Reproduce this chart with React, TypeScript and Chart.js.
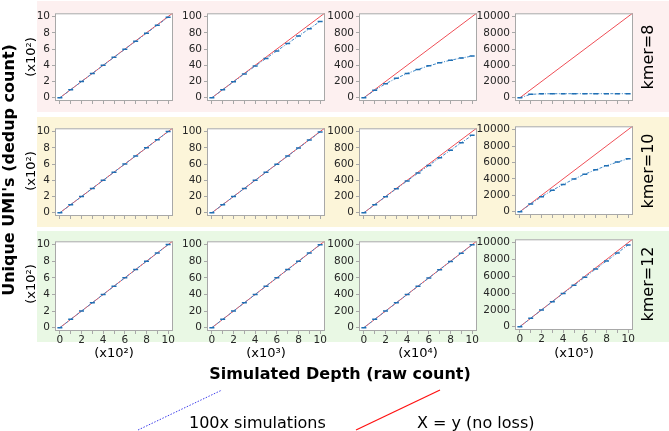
import React, { useEffect, useRef } from "react";
import { Chart, registerables } from "chart.js";

Chart.register(...registerables);

// ---------------- data ----------------
const DEPTH_STEPS = [0, 1, 2, 3, 4, 5, 6, 7, 8, 9, 10];
const X_TICKS = [0, 1, 2, 3, 4, 5, 6, 7, 8, 9, 10];
const X_LABELED = [0, 2, 4, 6, 8, 10];
const Y_TICKS = [
  [0, 2, 4, 6, 8, 10],
  [0, 20, 40, 60, 80, 100],
  [0, 200, 400, 600, 800, 1000],
  [0, 2000, 4000, 6000, 8000, 10000],
];
const IDENTITY_X = [0, 10.6];
const Y_SCALE = [1, 10, 100, 1000];
const KMER_LABELS = ["kmer=8", "kmer=10", "kmer=12"];
const X_UNIT_LABELS = ["(x10²)", "(x10³)", "(x10⁴)", "(x10⁵)"];
const Y_UNIT_LABEL = "(x10²)";
const X_TITLE = "Simulated Depth (raw count)";
const Y_TITLE = "Unique UMI's (dedup count)";
const LEGEND_SIM = "100x simulations";
const LEGEND_ID = "X = y (no loss)";

// kmer = 8
const K8_C1 = [0, 1.0, 2.0, 2.99, 3.99, 4.98, 5.97, 6.96, 7.95, 8.94, 9.92];
const K8_C2 = [0, 9.9, 19.7, 29.4, 39.0, 48.4, 57.7, 66.9, 76.0, 85.0, 94.0];
const K8_C3 = [0, 92, 172, 240, 299, 349, 393, 430, 462, 489, 513];
const K8_C4 = [0, 420, 480, 495, 500, 500, 501, 501, 501, 501, 501];
// kmer = 10
const K10_C1 = [0, 1, 2, 3, 4, 5, 6, 7, 8, 9, 10];
const K10_C2 = [0, 10, 20, 29.96, 39.9, 49.9, 59.8, 69.8, 79.7, 89.6, 99.5];
const K10_C3 = [0, 99.5, 198, 296, 392, 488, 583, 677, 770, 862, 954];
const K10_C4 = [0, 954, 1821, 2609, 3325, 3977, 4569, 5107, 5596, 6041, 6445];
// kmer = 12
const K12_C1 = [0, 1, 2, 3, 4, 5, 6, 7, 8, 9, 10];
const K12_C2 = [0, 10, 20, 30, 40, 50, 60, 70, 79.9, 89.9, 99.9];
const K12_C3 = [0, 100, 199.9, 299.7, 399.5, 499.3, 598.9, 698.5, 798.1, 897.6, 997];
const K12_C4 = [0, 997, 1988, 2973, 3953, 4926, 5894, 6856, 7812, 8763, 9730];

const SERIES = [
  [K8_C1, K8_C2, K8_C3, K8_C4],
  [K10_C1, K10_C2, K10_C3, K10_C4],
  [K12_C1, K12_C2, K12_C3, K12_C4],
];

// ---------------- layout / style ----------------
const FONT = "'DejaVu Sans', sans-serif";
const BLUE = "#3f88c8";
const BLUE_MARK = "#1f6fb4";
const RED = "#ef5058";
const FRAME = "#a8a8a8";
const TICK_TEXT = "#262626";
const BAND_COLORS = ["#fdf0f0", "#fcf5d9", "#e9f8e4"];
const BAND_TOPS = [1, 117, 231];
const BAND_BOTTOMS = [112, 227, 342];
const BAND_LEFT = 37;

const PLOT_LEFTS = [55, 207, 359, 515];
const PLOT_W = 118;
const PLOT_TOPS = [
  [13, 13, 13, 13],
  [128, 128, 128, 126],
  [241, 241, 241, 239],
];
const PLOT_HEIGHTS = [
  [88, 88, 88, 88],
  [88, 88, 88, 89],
  [90, 90, 90, 91],
];
const ROW_CENTERS = [57, 171, 284];
const YW = 44; // y axis width inside canvas
const TP = 8; // top padding
const RP = 10; // right padding
const XH = 20; // x axis height

const framePlugin = {
  id: "frame",
  beforeDraw(chart: any) {
    const { ctx, chartArea } = chart;
    const { left, top, right, bottom } = chartArea;
    ctx.save();
    ctx.fillStyle = "#ffffff";
    ctx.fillRect(left, top, right - left, bottom - top);
    ctx.restore();
  },
  afterDatasetsDraw(chart: any) {
    const { ctx, chartArea } = chart;
    const { left, top, right, bottom } = chartArea;
    ctx.save();
    ctx.strokeStyle = FRAME;
    ctx.lineWidth = 1;
    ctx.strokeRect(left + 0.5, top + 0.5, right - left - 1, bottom - top - 1);
    ctx.restore();
  },
};

function Panel({ row, col }: { row: number; col: number }) {
  const ref = useRef<HTMLCanvasElement>(null);
  const h = PLOT_HEIGHTS[row][col];
  const cw = YW + PLOT_W + RP;
  const ch = TP + h + XH;
  useEffect(() => {
    const k = Y_SCALE[col];
    const values = SERIES[row][col];
    const tickFont = { family: FONT, size: 10.5 };
    const chart = new Chart(ref.current as HTMLCanvasElement, {
      type: "line",
      data: {
        datasets: [
          {
            data: DEPTH_STEPS.map((x, i) => ({ x, y: values[i] })),
            borderColor: BLUE,
            borderWidth: 1,
            borderDash: [3, 1.5, 1, 1.5],
            pointStyle: "line",
            pointRadius: 2.5,
            pointBorderWidth: 1.5,
            pointBorderColor: BLUE_MARK,
            pointBackgroundColor: BLUE_MARK,
            fill: false,
            tension: 0,
            clip: 0,
          } as any,
          {
            data: IDENTITY_X.map((x) => ({ x, y: x * k })),
            borderColor: RED,
            borderWidth: 1,
            pointRadius: 0,
            fill: false,
            clip: 0,
          } as any,
        ],
      },
      options: {
        animation: false,
        responsive: false,
        events: [],
        layout: { padding: { top: TP, right: RP, left: 0, bottom: 0 } },
        plugins: { legend: { display: false }, tooltip: { enabled: false } },
        scales: {
          x: {
            type: "linear",
            min: -0.45,
            max: 10.45,
            afterBuildTicks: (s: any) => {
              s.ticks = X_TICKS.map((v) => ({ value: v }));
            },
            afterFit: (s: any) => {
              s.height = XH;
            },
            border: { display: false },
            grid: {
              drawOnChartArea: false,
              drawTicks: true,
              tickLength: 3,
              color: FRAME,
            },
            ticks: {
              autoSkip: false,
              maxRotation: 0,
              minRotation: 0,
              padding: 0,
              font: tickFont,
              color: TICK_TEXT,
              callback: (v: any) =>
                row === 2 && X_LABELED.includes(Number(v)) ? String(v) : "",
            },
          },
          y: {
            type: "linear",
            min: -0.4 * k,
            max: 10.4 * k,
            afterBuildTicks: (s: any) => {
              s.ticks = Y_TICKS[col].map((v) => ({ value: v }));
            },
            afterFit: (s: any) => {
              s.width = YW;
            },
            border: { display: false },
            grid: {
              drawOnChartArea: false,
              drawTicks: true,
              tickLength: 3,
              color: FRAME,
            },
            ticks: {
              autoSkip: false,
              padding: 2,
              font: tickFont,
              color: TICK_TEXT,
              callback: (v: any) => String(v),
            },
          },
        },
      } as any,
      plugins: [framePlugin],
    });
    return () => chart.destroy();
  }, [row, col]);
  return (
    <canvas
      ref={ref}
      width={cw}
      height={ch}
      style={{
        position: "absolute",
        left: PLOT_LEFTS[col] - YW,
        top: PLOT_TOPS[row][col] - TP,
        width: cw,
        height: ch,
      }}
    />
  );
}

function Label({
  text,
  x,
  y,
  size,
  bold,
  rotate,
  align,
}: {
  text: string;
  x: number;
  y: number;
  size: number;
  bold?: boolean;
  rotate?: boolean;
  align?: "left" | "center";
}) {
  const tx = align === "left" ? "0" : "-50%";
  return (
    <div
      style={{
        position: "absolute",
        left: x,
        top: y,
        transform: `translate(${tx}, -50%)${rotate ? " rotate(-90deg)" : ""}`,
        transformOrigin: align === "left" ? "left center" : "center center",
        fontFamily: FONT,
        fontSize: size,
        fontWeight: bold ? "bold" : "normal",
        lineHeight: 1,
        whiteSpace: "nowrap",
        color: "#000",
      }}
    >
      {text}
    </div>
  );
}

export default function App() {
  const rows = [0, 1, 2];
  const cols = [0, 1, 2, 3];
  return (
    <div
      style={{
        position: "absolute",
        left: 0,
        top: 0,
        width: 669,
        height: 431,
        overflow: "hidden",
        background: "#fff",
      }}
    >
      {rows.map((r) => (
        <div
          key={"band" + r}
          style={{
            position: "absolute",
            left: BAND_LEFT,
            top: BAND_TOPS[r],
            width: 669 - BAND_LEFT,
            height: BAND_BOTTOMS[r] - BAND_TOPS[r],
            background: BAND_COLORS[r],
          }}
        />
      ))}
      {rows.map((r) =>
        cols.map((c) => <Panel key={r + "-" + c} row={r} col={c} />)
      )}
      {rows.map((r) => (
        <Label key={"yu" + r} text={Y_UNIT_LABEL} x={30} y={ROW_CENTERS[r]} size={13} rotate />
      ))}
      {rows.map((r) => (
        <Label key={"km" + r} text={KMER_LABELS[r]} x={648} y={ROW_CENTERS[r]} size={16} rotate />
      ))}
      {cols.map((c) => (
        <Label
          key={"xu" + c}
          text={X_UNIT_LABELS[c]}
          x={PLOT_LEFTS[c] + PLOT_W / 2}
          y={352}
          size={13}
        />
      ))}
      <Label text={Y_TITLE} x={9} y={170} size={16} bold rotate />
      <Label text={X_TITLE} x={340} y={374} size={16} bold />
      <svg
        width={669}
        height={431}
        style={{ position: "absolute", left: 0, top: 0, pointerEvents: "none" }}
      >
        <line x1={138} y1={430} x2={222} y2={390} stroke="#3b3bea" strokeWidth={1} strokeDasharray="1.5 1.5" />
        <line x1={356} y1={430} x2={440} y2={390} stroke="#ff1010" strokeWidth={1.2} />
      </svg>
      <Label text={LEGEND_SIM} x={189} y={423} size={16} align="left" />
      <Label text={LEGEND_ID} x={417} y={423} size={16} align="left" />
    </div>
  );
}
